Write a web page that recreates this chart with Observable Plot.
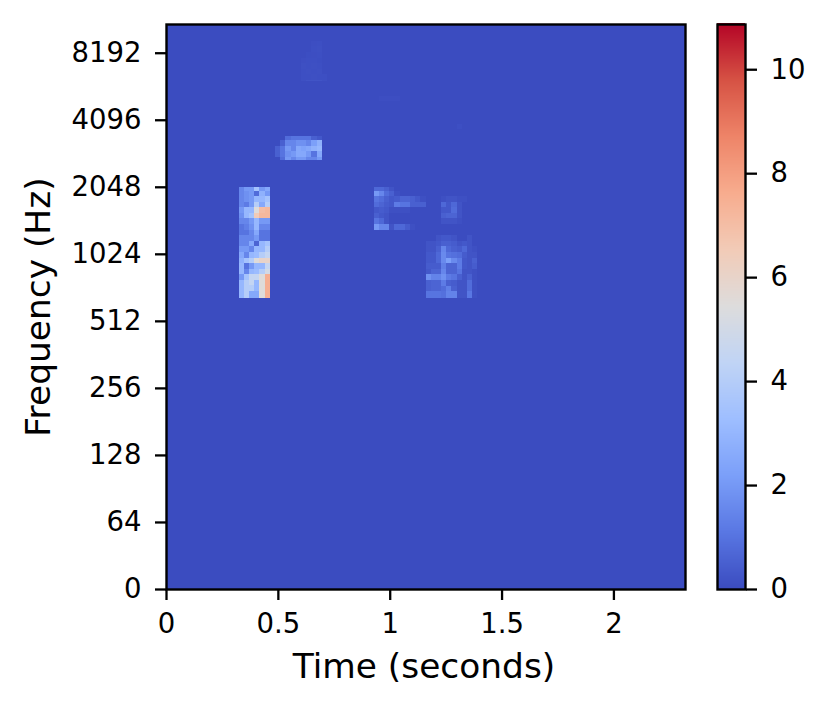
<!DOCTYPE html>
<html><head><meta charset="utf-8">
<script src="https://cdn.jsdelivr.net/npm/d3@7"></script>
<script src="https://cdn.jsdelivr.net/npm/@observablehq/plot@0.6"></script>
<style>html,body{margin:0;padding:0;background:#fff}#c{position:relative;width:829px;height:711px}#c svg{position:absolute;left:0;top:0;background:transparent}</style>
</head><body><div id="c"></div>
<script>
const duration = 2.32, frameStep = 0.0232, binsPerOctave = 12, maxValue = 10.87, topFreq = 11025;
const timeTicks = [0, 0.5, 1, 1.5, 2];
const freqTicks = [0, 64, 128, 256, 512, 1024, 2048, 4096, 8192];
const colorbarTicks = [0, 2, 4, 6, 8, 10];
const coolwarmStops = [0, .1, .2, .3, .4, .5, .6, .7, .8, .9, 1];
const coolwarmColors = ["#3b4cc0","#5977e3","#7b9ff9","#9ebeff","#c0d4f5","#dddcdc","#f2cbb7","#f7ac8e","#ee8468","#d65244","#b40426"];

const patchStrong = [
 [1.5,2,2,3.5,2,2.5],
 [1.5,1.8,2,0.8,2.8,2],
 [1.5,1.8,2,3,3,3.5],
 [1.5,1.2,2,4,2.5,4],
 [2,3,3,5.5,7,7.2],
 [1.8,3,3.5,6.5,7.2,7.2],
 [1.5,1.5,2,3,2,2],
 [1,1.3,1.8,3,1.5,1.5],
 [1,1,1.5,2.5,1,1],
 [1.5,1.5,1.5,2,1,1],
 [1.5,1.5,2.5,0.6,3,3.5],
 [2,2,1.5,3,3,4],
 [2.5,1.5,3,3.2,4,4.5],
 [2.8,3.5,4,5.5,6,6],
 [3,1,2,3,3,4.5],
 [3,1.5,3,3.2,4,5],
 [2,3.5,4.5,4.5,5.5,7.5],
 [3,4,4.5,3,5.5,7.5],
 [3,4,4,3,5.5,7.5],
 [3,4,2.5,2.5,5.5,7.5],
 [3,4,2.5,2.5,5.5,7.5]
];
const patchHigh = [
 [0,0,0.8,1,1,1,1,0.5,0.3],
 [0,0.5,1.5,1.5,1.8,1.8,1.5,2.2,2.8],
 [0.5,1,2,1.5,2.5,2.3,2.5,2.8,3],
 [0.5,1,1.8,2,2.5,2.5,2,1,2.5],
 [0,0.8,2,1.5,2,2,1.5,1.5,2]
];
const patchMid = [
 [0.7,0.7,0.5,0.2,0,0,0,0,0,0],
 [2,1.5,0.8,0.5,0.1,0,0,0,0,0],
 [1,0.8,0.5,0.3,0.4,0.6,0.6,0.5,0.3,0.1],
 [0.8,0.6,0.4,0.3,1.2,1,1,0.5,0.5,0.5],
 [0.3,0.4,0.3,0.1,0.1,0.1,0.1,0,0,0],
 [0.5,0.3,0.2,0,0,0,0,0,0,0],
 [1,0.7,0.2,0,0,0,0,0,0,0],
 [2,1.5,1.5,0.2,0.7,0.7,0.4,0.1,0,0]
];
const patchMidRight = [
 [0.1,0.2,0.2,0.1,0.1],
 [0.7,0.3,0.7,0.2,0],
 [0.3,0.3,0.8,0.2,0],
 [0.5,0.6,0.6,0.2,0],
 [0.2,0.2,0.2,0.1,0]
];
const patchLow = [
 [0,0,0.2,0.3,0.3,0.2,0,0,0.2,0],
 [0.2,0.2,0.3,0.5,0.5,0.4,0.2,0.3,0.2,0],
 [0.2,0.2,0.5,1.5,0.7,0.5,0.4,0.7,0.2,0.1],
 [0.3,0.3,0.7,1.6,1,0.9,0.8,0.4,0.2,0.2],
 [0.3,0.3,0.7,1.6,2.2,1.6,1.2,0.3,0.2,0.5],
 [0.4,0.4,0.4,1.3,0.6,0.6,1.2,0.3,0.2,0.4],
 [0.3,0.6,0.6,1.5,0.6,0.6,1,0.2,0.2,0.1],
 [1.8,1.4,1.4,1.8,1.2,1,0.5,0.2,0.5,0.1],
 [0.5,0.6,0.6,1.2,0.5,0.4,0.2,0.2,0.8,0.1],
 [0.5,0.6,0.6,0.8,1.3,0.5,0.2,0.2,0.8,0.1],
 [1,1,1,0.9,1.4,1.4,0.2,0.2,1.1,0.1],
 [1,1,1,0.9,1.4,1.4,0.2,0.2,1.1,0.1]
];
const patchFaint = [
 [0,0,0.06,0.08,0],
 [0,0,0.08,0.1,0],
 [0,0.05,0.06,0.08,0],
 [0.06,0.08,0.08,0.05,0],
 [0.1,0.08,0.1,0.08,0],
 [0.08,0.1,0.08,0.1,0],
 [0.08,0.08,0.1,0.08,0.08],
 [0.1,0.2,0.2,0.2,0.1]
];
const patchSpeck1 = [[0.06,0.06,0.06,0.06]];
const patchSpeck2 = [[0.08]];
const patches = [
 {frame:14, top:2088, clipTop:2048, clipBottom:650, rows:patchStrong},
 {frame:21, top:3511, clipTop:3446, clipBottom:2711, rows:patchHigh},
 {frame:40, top:2088, clipTop:2048, rows:patchMid},
 {frame:53, top:1860, rows:patchMidRight},
 {frame:50, top:1241, clipBottom:650, rows:patchLow},
 {frame:26, top:9267, clipBottom:6133, rows:patchFaint},
 {frame:41, top:5261, rows:patchSpeck1},
 {frame:56, top:3932, rows:patchSpeck2}
];

// librosa-style symmetric log axis: linear below 64 Hz, one unit per octave above
const octave = f => f <= 64 ? f / 64 : 1 + Math.log2(f / 64);

const cells = patches.flatMap(p => p.rows.flatMap((row, r) => row.map((v, c) => {
  const top = octave(p.top) - r / binsPerOctave;
  return {
    x1: (p.frame + c) * frameStep, x2: (p.frame + c + 1) * frameStep,
    y2: p.clipTop ? Math.min(top, octave(p.clipTop)) : top,
    y1: p.clipBottom ? Math.max(top - 1 / binsPerOctave, octave(p.clipBottom)) : top - 1 / binsPerOctave,
    v
  };
}))).filter(d => d.y2 > d.y1);

const color = {type:"linear", domain: coolwarmStops.map(s => s * maxValue), range: coolwarmColors, interpolate:"rgb", clamp:true};
const base = {width:829, height:711, marginTop:24, marginBottom:122, style:{fontFamily:"DejaVu Sans", background:"transparent", color:"#000"}};
const axisStyle = {tickSize:11, tickPadding:14, fontSize:27.5, label:null, strokeWidth:2.3};
const yPositions = freqTicks.map(octave);

const main = Plot.plot({
  ...base, marginLeft:166, marginRight:144,
  x:{domain:[0,duration]}, y:{domain:[0,octave(topFreq)]}, color,
  marks:[
    Plot.rect([{v:0}],{x1:()=>0,x2:()=>duration,y1:()=>0,y2:()=>octave(topFreq),fill:"v"}),
    Plot.rect(cells,{x1:"x1",x2:"x2",y1:"y1",y2:"y2",fill:"v",shapeRendering:"crispEdges"}),
    Plot.frame({stroke:"#000",strokeWidth:2.4}),
    Plot.axisX({...axisStyle,ticks:timeTicks,tickPadding:13,tickFormat:d=>String(d)}),
    Plot.axisY({...axisStyle,ticks:yPositions,tickFormat:d=>String(freqTicks[yPositions.indexOf(d)])}),
    Plot.text(["Time (seconds)"],{frameAnchor:"bottom",dx:-2,dy:88,fontSize:34.4,fill:"#000"}),
    Plot.text(["Frequency (Hz)"],{frameAnchor:"left",dx:-128,textAnchor:"middle",rotate:-90,fontSize:34.4,fill:"#000"})
  ]
});

const barSteps = d3.range(0, 566).map(i => i / 565 * maxValue);
const bar = Plot.plot({
  ...base, marginLeft:717, marginRight:84,
  x:{domain:[0,1],axis:null}, y:{domain:[0,maxValue]}, color,
  marks:[
    Plot.rect(barSteps,{x1:()=>0,x2:()=>1,y1:d=>d,y2:d=>d+maxValue/565,fill:d=>d,shapeRendering:"crispEdges"}),
    Plot.frame({stroke:"#000",strokeWidth:2.4}),
    Plot.axisY({...axisStyle,anchor:"right",ticks:colorbarTicks,tickFormat:d=>String(d)})
  ]
});
document.getElementById("c").append(main, bar);
</script></body></html>
